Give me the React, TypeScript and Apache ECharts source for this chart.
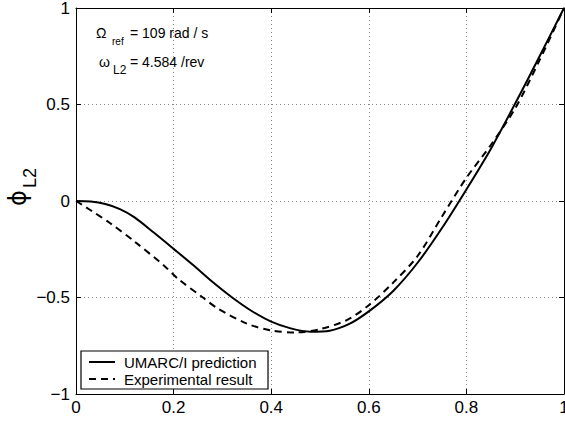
import React, { useEffect, useRef } from "react";
import * as echarts from "echarts";

const xTickValues = [0, 0.2, 0.4, 0.6, 0.8, 1];
const yTickValues = [-1, -0.5, 0, 0.5, 1];

const predictionX = [0, 0.03, 0.06, 0.09, 0.12, 0.16, 0.2, 0.24, 0.28, 0.32, 0.36, 0.4, 0.44, 0.48, 0.52, 0.56, 0.6, 0.65, 0.7, 0.75, 0.8, 0.85, 0.9, 0.95, 1.0];
const predictionY = [0, -0.003, -0.016, -0.042, -0.085, -0.165, -0.248, -0.332, -0.42, -0.5, -0.57, -0.625, -0.66, -0.677, -0.672, -0.637, -0.572, -0.466, -0.32, -0.14, 0.06, 0.27, 0.505, 0.75, 1.0];

const experimentX = [0, 0.03, 0.07, 0.12, 0.18, 0.21, 0.26, 0.29, 0.35, 0.4, 0.45, 0.5, 0.555, 0.6, 0.65, 0.7, 0.75, 0.8, 0.85, 0.9, 0.95, 1.0];
const experimentY = [0, -0.048, -0.115, -0.21, -0.334, -0.405, -0.5, -0.556, -0.635, -0.671, -0.681, -0.664, -0.617, -0.54, -0.423, -0.285, -0.08, 0.12, 0.29, 0.48, 0.73, 1.0];

const seriesNames = ["UMARC/I prediction", "Experimental result"];
const annotation1 = ["Ω", "ref", "= 109 rad / s"];
const annotation2 = ["ω", "L2", "= 4.584 /rev"];
const yTitle = ["\u03D5", "L2"];

const FONT = "'Liberation Sans', Arial, Helvetica, sans-serif";

function fmtY(v: number) {
  if (v < 0) return "\u2212" + String(Math.abs(v));
  return String(v);
}
function fmtX(v: number) {
  return String(+v.toFixed(1));
}

export default function App() {
  const ref = useRef<HTMLDivElement>(null);
  useEffect(() => {
    document.body.style.margin = "0";
    if (!ref.current) return;
    const chart = echarts.init(ref.current, undefined, { renderer: "svg" });
    const predData = predictionX.map((x, i) => [x, predictionY[i]]);
    const expData = experimentX.map((x, i) => [x, experimentY[i]]);
    const splitLine = {
      show: true,
      lineStyle: { color: "#888", width: 1, type: [1, 3] as any },
    };
    const axisLine = { show: true, onZero: false, lineStyle: { color: "#000", width: 1 } };
    const axisTick = { show: true, inside: true, length: 5, lineStyle: { color: "#000", width: 1 } };
    const labelStyle = { color: "#000", fontSize: 17, fontFamily: FONT };
    const t = (x: number, y: number, text: string, size: number, extra: any = {}) => ({
      type: "text",
      x,
      y,
      z: 100,
      ...extra,
      style: {
        text,
        fontSize: size,
        fontFamily: extra.font || FONT,
        fill: "#000",
        align: extra.align || "left",
        verticalAlign: "middle",
        textAlign: extra.align || "left",
        textVerticalAlign: "middle",
      },
    });
    chart.setOption({
      animation: false,
      backgroundColor: "#fff",
      grid: {
        left: 76,
        right: 1,
        top: 8,
        bottom: 27,
        containLabel: false,
        outerBoundsMode: "none",
      } as any,
      xAxis: [
        {
          type: "value",
          min: 0,
          max: 1,
          interval: 0.2,
          position: "bottom",
          axisLine,
          axisTick,
          axisLabel: { ...labelStyle, margin: 5, formatter: fmtX },
          splitLine,
        },
        {
          type: "value",
          min: 0,
          max: 1,
          interval: 0.2,
          position: "top",
          axisLine,
          axisTick,
          axisLabel: { show: false },
          splitLine: { show: false },
        },
      ],
      yAxis: [
        {
          type: "value",
          min: -1,
          max: 1,
          interval: 0.5,
          position: "left",
          axisLine,
          axisTick,
          axisLabel: { ...labelStyle, margin: 6, formatter: fmtY },
          splitLine,
        },
        {
          type: "value",
          min: -1,
          max: 1,
          interval: 0.5,
          position: "right",
          axisLine,
          axisTick,
          axisLabel: { show: false },
          splitLine: { show: false },
        },
      ],
      series: [
        {
          name: seriesNames[0],
          type: "line",
          data: predData,
          showSymbol: false,
          smooth: 0.3,
          lineStyle: { color: "#000", width: 2, type: "solid" },
          z: 5,
        },
        {
          name: seriesNames[1],
          type: "line",
          data: expData,
          showSymbol: false,
          smooth: 0.3,
          lineStyle: { color: "#000", width: 2, type: [7, 5] as any },
          z: 4,
        },
      ],
      graphic: [
        t(96, 33, annotation1[0], 14),
        t(112, 41, annotation1[1], 10),
        t(130, 33, annotation1[2], 14),
        t(99, 62, annotation2[0], 14),
        t(113, 70, annotation2[1], 12),
        t(130, 62, annotation2[2], 14),
        t(18, 198, yTitle[0], 24, { rotation: Math.PI / 2, align: "center", font: "'DejaVu Sans', sans-serif" }),
        t(30, 178, yTitle[1], 18, { rotation: Math.PI / 2, align: "center" }),
        {
          type: "rect",
          z: 99,
          shape: { x: 81, y: 351, width: 187, height: 38 },
          style: { fill: "#fff", stroke: "#000", lineWidth: 1.2 },
        },
        {
          type: "line",
          z: 100,
          shape: { x1: 89, y1: 362, x2: 115, y2: 362 },
          style: { stroke: "#000", lineWidth: 2 },
        },
        {
          type: "line",
          z: 100,
          shape: { x1: 89, y1: 379, x2: 115, y2: 379 },
          style: { stroke: "#000", lineWidth: 2, lineDash: [7, 5] },
        },
        t(124, 362, seriesNames[0], 15),
        t(124, 379, seriesNames[1], 15),
      ],
    });
    return () => chart.dispose();
  }, []);
  return <div ref={ref} style={{ width: 565, height: 421 }} />;
}
